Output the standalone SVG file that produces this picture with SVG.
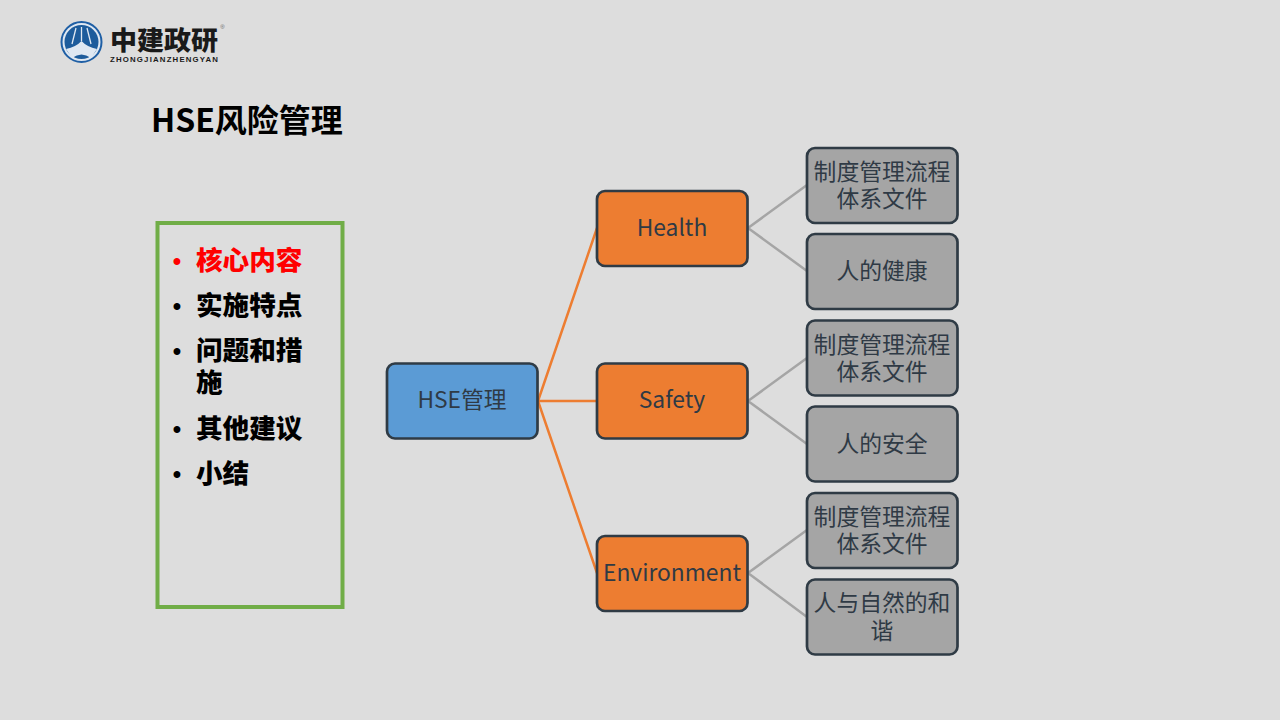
<svg xmlns="http://www.w3.org/2000/svg" width="1280" height="720" viewBox="0 0 1280 720">
<defs><style>
text{font-family:"Noto Sans CJK SC","Noto Sans",sans-serif;text-anchor:middle;fill:#2f3a45;font-size:22.800px}
.n{stroke:#2f3b45;stroke-width:2.700}
.o{fill:#ed7d31}.g{fill:#a5a5a5}.b{fill:#5b9bd5}
.c1{stroke:#ed7d31;stroke-width:2.500;fill:none}
.c2{stroke:#a5a5a5;stroke-width:2.500;fill:none}
.li{font-weight:900;font-size:26.600px;text-anchor:start;fill:#000}
.bu{font-family:"Liberation Sans",sans-serif;font-weight:700;font-size:24px;fill:#000}
</style></defs>
<rect width="1280" height="720" fill="#dddddd"/>
<g id="logo">
<circle cx="81.500" cy="42" r="20" fill="#dfe8f2" stroke="#1f5fa5" stroke-width="2"/>
<circle cx="81.500" cy="42" r="17" fill="#1d5c9c"/>
<path d="M66 49Q76 47 81.500 41Q87 47 97 49L91 58Q81.500 51 72 58Z" fill="#dfe8f2"/>
<path d="M76 28L72 44M81.500 27V41M87 28L91 44" stroke="#dfe8f2" stroke-width="1.300" fill="none"/>
<text x="164" y="50" textLength="108" lengthAdjust="spacingAndGlyphs" style="font-size:26px;font-weight:900;fill:#1a1a1a">中建政研</text>
<text x="164" y="62" textLength="108" lengthAdjust="spacing" style="font-family:'Liberation Sans',sans-serif;font-size:7.800px;font-weight:700;fill:#1a1a1a">ZHONGJIANZHENGYAN</text>
<text x="222.500" y="29" style="font-family:'Liberation Sans',sans-serif;font-size:6px;fill:#666">®</text>
</g>
<text id="title" x="151" y="132" style="font-size:32px;font-weight:700;fill:#000;text-anchor:start">HSE风险管理</text>
<g id="menu">
<rect x="157.500" y="223" width="185" height="384" fill="none" stroke="#70ad47" stroke-width="4"/>
<text class="bu" x="177" y="269" style="fill:#f00">•</text><text class="li" x="196" y="270" style="fill:#f00">核心内容</text>
<text class="bu" x="177" y="314">•</text><text class="li" x="196" y="315">实施特点</text>
<text class="bu" x="177" y="359">•</text><text class="li" x="196" y="360">问题和措</text><text class="li" x="196" y="392">施</text>
<text class="bu" x="177" y="437">•</text><text class="li" x="196" y="438">其他建议</text>
<text class="bu" x="177" y="482">•</text><text class="li" x="196" y="483">小结</text>
</g>
<g id="connectors">
<path class="c1" d="M538 401L597 228M538 401H597M538 401L597 573"/>
<path class="c2" d="M748 228L807 185M748 228L807 271M748 401L807 358M748 401L807 444M748 573L807 530M748 573L807 617"/>
</g>
<g id="hse"><rect class="n b" x="387" y="363.500" width="150.500" height="75" rx="8"/><text x="462" y="408">HSE管理</text></g>
<g id="health"><rect class="n o" x="597" y="191" width="150.500" height="75" rx="8"/><text x="672" y="236">Health</text></g>
<g id="safety"><rect class="n o" x="597" y="363.500" width="150.500" height="75" rx="8"/><text x="672" y="408">Safety</text></g>
<g id="environment"><rect class="n o" x="597" y="536" width="150.500" height="75" rx="8"/><text x="672" y="581">Environment</text></g>
<g id="h1"><rect class="n g" x="807" y="148" width="150.500" height="75" rx="8"/><text x="882" y="180">制度管理流程</text><text x="882" y="207">体系文件</text></g>
<g id="h2"><rect class="n g" x="807" y="234" width="150.500" height="75" rx="8"/><text x="882" y="279">人的健康</text></g>
<g id="s1"><rect class="n g" x="807" y="320.500" width="150.500" height="75" rx="8"/><text x="882" y="353">制度管理流程</text><text x="882" y="380">体系文件</text></g>
<g id="s2"><rect class="n g" x="807" y="406.500" width="150.500" height="75" rx="8"/><text x="882" y="452">人的安全</text></g>
<g id="e1"><rect class="n g" x="807" y="493" width="150.500" height="75" rx="8"/><text x="882" y="525">制度管理流程</text><text x="882" y="552">体系文件</text></g>
<g id="e2"><rect class="n g" x="807" y="579.500" width="150.500" height="75" rx="8"/><text x="882" y="611">人与自然的和</text><text x="882" y="639">谐</text></g>
</svg>
